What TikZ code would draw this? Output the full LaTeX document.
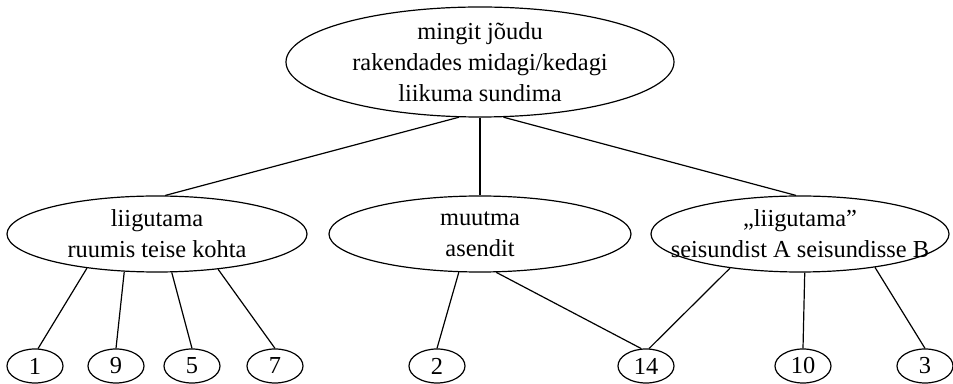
\documentclass[tikz,border=0pt]{standalone}
\usepackage{fontspec}
\setmainfont{Liberation Serif}
\usetikzlibrary{shapes.geometric}

\begin{document}
\begin{tikzpicture}[x=1pt, y=1pt, node distance=66pt, line width=0.6pt, sense/.style={ellipse, draw, inner sep=-12pt, align=center, font=\fontsize{12.2}{15.5}\selectfont}, leaf/.style={ellipse, draw, inner sep=-12pt, minimum width=28pt, minimum height=17pt, font=\fontsize{12.2}{15.5}\selectfont}]

  \useasboundingbox (0,0) rectangle (476.5,-192);

  \node[sense, minimum width=194pt, minimum height=55pt] (jouud) at (240,-31) {mingit jõudu\\rakendades midagi/kedagi\\liikuma sundima};
  \node[sense, minimum width=151pt, minimum height=38pt, below of=jouud, node distance=86pt] (asend) {muutma\\asendit};
  \node[sense, minimum width=150pt, minimum height=38pt, left of=asend, node distance=161.5pt] (ruum) {liigutama\\ruumis teise kohta};
  \node[sense, minimum width=149pt, minimum height=38pt, right of=asend, node distance=160pt] (seisund) {„liigutama”\\seisundist A seisundisse B};

  \node[leaf, below of=ruum, xshift=-61pt] (n1) {1};
  \node[leaf, right of=n1, node distance=40.5pt] (n9) {9};
  \node[leaf, right of=n9, node distance=38pt] (n5) {5};
  \node[leaf, right of=n5, node distance=41.5pt] (n7) {7};
  \node[leaf, right of=n7, node distance=81pt] (n2) {2};
  \node[leaf, right of=n2, node distance=104.5pt] (n14) {14};
  \node[leaf, right of=n14, node distance=78.5pt] (n10) {10};
  \node[leaf, right of=n10, node distance=61pt] (n3) {3};

  \draw (jouud.249) -- (ruum.78);
  \draw (jouud.south) -- (asend.north);
  \draw (jouud.293) -- (seisund.96);

  \draw (ruum.206) -- (n1.80);
  \draw (ruum.229) -- (n9.north);
  \draw (ruum.291) -- (n5.north);
  \draw (ruum.330) -- (n7.north);
  \draw (asend.241) -- (n2.north);
  \draw (asend.293) -- (n14.105);
  \draw (seisund.206) -- (n14.80);
  \draw (seisund.277) -- (n10.north);
  \draw (seisund.336) -- (n3.north);
\end{tikzpicture}
\end{document}
